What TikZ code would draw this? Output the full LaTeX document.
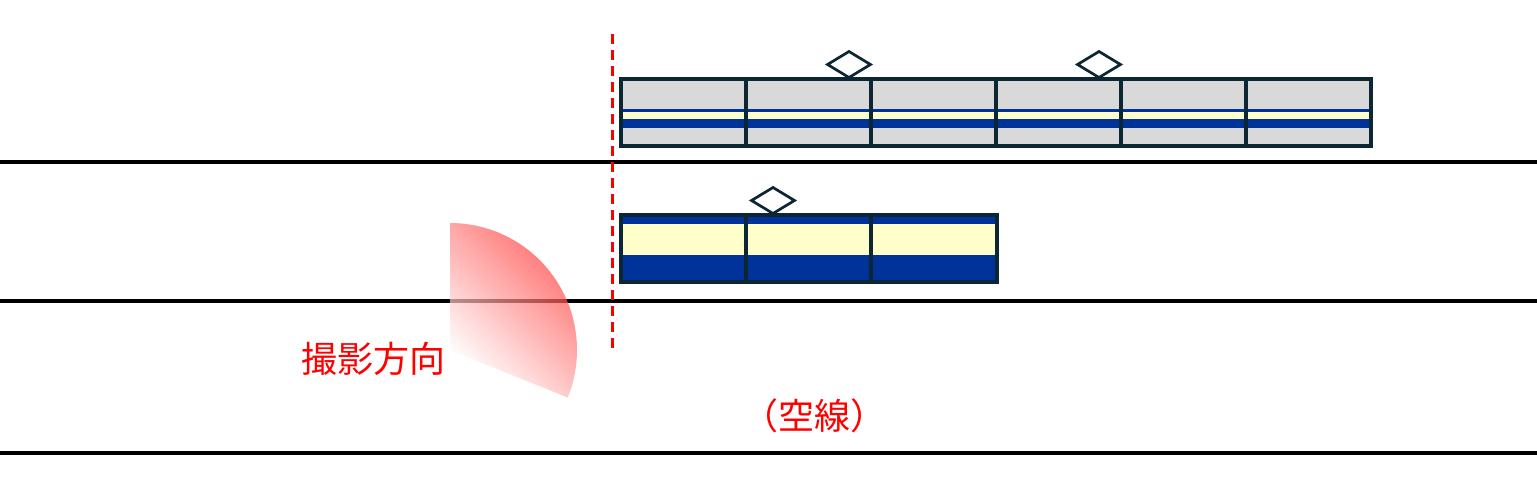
\documentclass[tikz,border=0pt]{standalone}
\usepackage{fontspec}
\newfontfamily\cjk{Noto Sans CJK JP}
\usetikzlibrary{shapes.geometric}
\definecolor{navy}{HTML}{003399}
\definecolor{cream}{HTML}{FFFFCC}
\definecolor{carbody}{HTML}{D9D9D9}
\definecolor{edge}{HTML}{0D2633}
\definecolor{fanred}{HTML}{FF2A2A}
\tikzset{
  car/.style={draw=edge, line width=3.3pt, minimum width=125pt, inner sep=0pt, outer sep=0pt},
  topcar/.style={car, minimum height=67pt},
  lowcar/.style={car, minimum height=67pt},
  panto/.style={diamond, draw=edge, fill=white, line width=2.7pt, minimum width=43pt, minimum height=26pt, inner sep=0pt, outer sep=0pt},
  rail/.style={line width=4pt, black},
  redtext/.style={text=red, inner sep=0pt, font=\cjk},
}
\begin{document}
\begin{tikzpicture}[x=1pt, y=-1pt]
\useasboundingbox (0,0) rectangle (1537,483);
% tracks
\coordinate (l1a) at (0,162); \coordinate (l1b) at (1537,162);
\coordinate (l2a) at (0,301); \coordinate (l2b) at (1537,301);
\coordinate (l3a) at (0,453); \coordinate (l3b) at (1537,453);
\draw[rail] (l1a) -- (l1b);
\draw[rail] (l2a) -- (l2b);
\draw[rail] (l3a) -- (l3b);
% top train body and stripes
\fill[carbody] (621,79) rectangle (1371,146);
\fill[navy] (621,109) rectangle (1371,111.5);
\fill[cream] (621,111.5) rectangle (1371,119);
\fill[navy] (621,119) rectangle (1371,127.5);
\foreach \i in {0,...,5}{
  \node[topcar, anchor=north west] (t\i) at ({621+125*\i},79) {};
}
% lower train
\fill[navy] (621,215) rectangle (997,282);
\fill[cream] (621,224) rectangle (997,255);
\foreach \i in {0,1,2}{
  \node[lowcar, anchor=north west, minimum width={\ifnum\i=2 126pt\else 125pt\fi}] (b\i) at ({621+125*\i},215) {};
}
% pantographs
\node[panto, anchor=south] (p1) at ([xshift=40.5pt,yshift=1.5pt]t1.north) {};
\node[panto, anchor=south] (p2) at ([xshift=40.5pt,yshift=1.5pt]t3.north) {};
\node[panto, anchor=south] (p3) at ([xshift=-35.5pt,yshift=1.5pt]b1.north) {};
% stop line
\coordinate (d1) at (612,34); \coordinate (d2) at (612,348);
\draw[red, line width=3pt, dash pattern=on 9.5pt off 6.5pt] (d1) -- (d2);
% camera fan
\coordinate (cam) at (450,350);
\path[fill opacity=0.7, top color=white, bottom color=fanred, shading angle=135]
  (cam) -- ++(90:127pt) arc[start angle=90, end angle=-22, radius=127pt] -- cycle;
% labels
\node[redtext, font=\cjk\fontsize{36}{40}\selectfont] (lab1) at (373,359) {撮影方向};
\node[redtext, font=\cjk\fontsize{36}{40}\selectfont] (lab2) at (814,416) {（空線）};
\end{tikzpicture}
\end{document}
